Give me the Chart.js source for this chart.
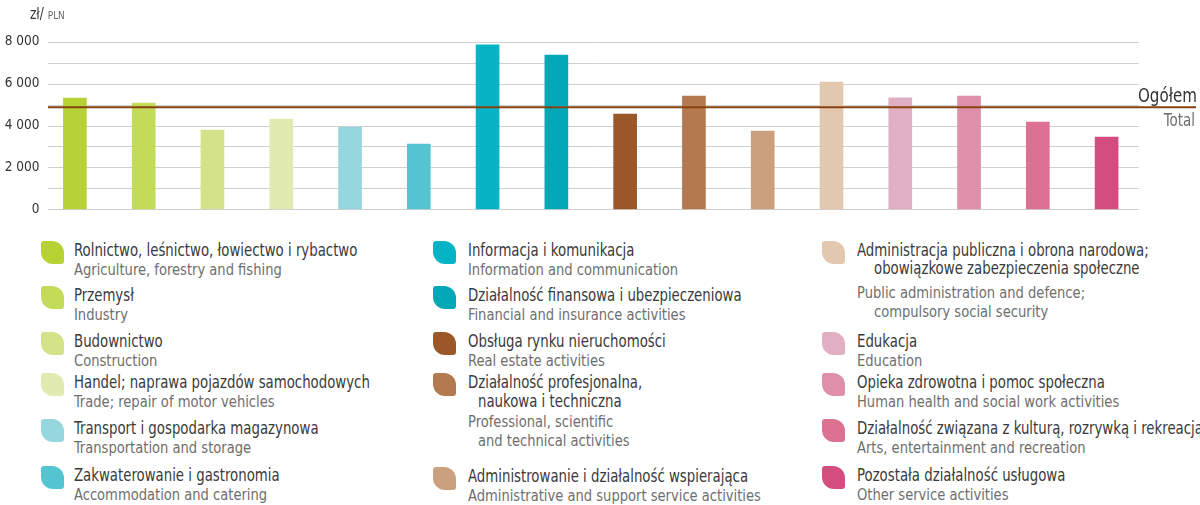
<!DOCTYPE html>
<html>
<head>
<meta charset="utf-8">
<script src="https://cdn.jsdelivr.net/npm/chart.js@4.4.1/dist/chart.umd.min.js"></script>
<style>
  html, body { margin: 0; padding: 0; background: #fff; }
  #wrap { position: relative; width: 1200px; height: 505px; overflow: hidden;
    font-family: "Liberation Sans Narrow", "DejaVu Sans Condensed", "Roboto", sans-serif; }
  #chart { position: absolute; left: 0; top: 0; }
  #unit { position: absolute; left: 30px; top: 5px; font-size: 15px; color: #333;
    transform: scaleX(0.9); transform-origin: 0 0; white-space: nowrap; }
  #unit span { font-size: 11px; color: #666; }
  .item { position: absolute; }
  .icon { position: absolute; width: 23px; height: 23px; border-radius: 3px 12px 3px 12px; }
  .pl { font-size: 17px; line-height: 19px; color: #3a3a3a; white-space: nowrap;
    transform: scaleX(0.87); transform-origin: 0 0; }
  .en { font-size: 16px; line-height: 19px; color: #6e6e6e; white-space: nowrap;
    transform: scaleX(0.91); transform-origin: 0 0; }
</style>
</head>
<body>
<div id="wrap">
  <canvas id="chart" width="1200" height="225"></canvas>
  <div id="unit">zł/ <span>PLN</span></div>
  <div id="legend"></div>
</div>
<script>
// Polish and English names of the sections
const categoriesPl = [
  ['Rolnictwo, leśnictwo, łowiectwo i rybactwo'],
  ['Przemysł'],
  ['Budownictwo'],
  ['Handel; naprawa pojazdów samochodowych'],
  ['Transport i gospodarka magazynowa'],
  ['Zakwaterowanie i gastronomia'],
  ['Informacja i komunikacja'],
  ['Działalność finansowa i  ubezpieczeniowa'],
  ['Obsługa rynku nieruchomości'],
  ['Działalność profesjonalna,', 'naukowa i  techniczna'],
  ['Administrowanie i działalność wspierająca'],
  ['Administracja publiczna i obrona narodowa;', 'obowiązkowe zabezpieczenia społeczne'],
  ['Edukacja'],
  ['Opieka zdrowotna i pomoc społeczna'],
  ['Działalność związana z kulturą, rozrywką i rekreacją'],
  ['Pozostała działalność usługowa']
];
const categoriesEn = [
  ['Agriculture, forestry and fishing'],
  ['Industry'],
  ['Construction'],
  ['Trade; repair of motor vehicles'],
  ['Transportation and storage'],
  ['Accommodation and catering'],
  ['Information and communication'],
  ['Financial and insurance activities'],
  ['Real estate activities'],
  ['Professional, scientific', 'and technical activities'],
  ['Administrative and support service activities'],
  ['Public administration and defence;', 'compulsory social security'],
  ['Education'],
  ['Human health and social work activities'],
  ['Arts, entertainment and recreation'],
  ['Other service activities']
];
// average gross wage, PLN
const wages = [5310, 5070, 3785, 4310, 3930, 3115, 7845, 7365, 4550, 5410, 3735, 6075, 5315, 5410, 4165, 3450];
const totalWage = 4870;
const totalLabelPl = 'Ogółem';
const totalLabelEn = 'Total';
const yTicks = [0, 2000, 4000, 6000, 8000];

const palette = ['#b5d334', '#c2dc5a', '#d4e38a', '#e1eab0', '#96d7df', '#55c4d1', '#07b4c5', '#02a7b8',
  '#9a5727', '#b4794f', '#cba07e', '#e3c8b0', '#e0afc2', '#df8fa9', '#dc7192', '#d44d7f'];

const fontFam = '"Liberation Sans Narrow", "DejaVu Sans Condensed", Roboto, sans-serif';

// narrowed text on the canvas, right aligned at x
function narrowText(ctx, text, x, y, sx) {
  ctx.save();
  ctx.translate(x, y);
  ctx.scale(sx, 1);
  ctx.fillText(text, 0, 0);
  ctx.restore();
}

// grid every 1000 and the "Ogółem" reference line
const refPlugin = {
  id: 'refs',
  beforeDatasetsDraw(chart) {
    const y = chart.scales.y, ctx = chart.ctx;
    ctx.save();
    ctx.strokeStyle = '#cfcfcf';
    ctx.lineWidth = 1;
    for (let v = 0; v <= 8000; v += 1000) {
      const py = Math.round(y.getPixelForValue(v)) + 0.5;
      ctx.beginPath();
      ctx.moveTo(48, py);
      ctx.lineTo(1139, py);
      ctx.stroke();
    }
    ctx.restore();
  },
  afterDatasetsDraw(chart) {
    const y = chart.scales.y, ctx = chart.ctx;
    const py = y.getPixelForValue(totalWage);
    ctx.save();
    ctx.strokeStyle = '#86420f';
    ctx.lineWidth = 2;
    ctx.beginPath();
    ctx.moveTo(48, py);
    ctx.lineTo(1196, py);
    ctx.stroke();
    ctx.textAlign = 'right';
    ctx.textBaseline = 'alphabetic';
    ctx.fillStyle = '#333';
    ctx.font = '20px ' + fontFam;
    narrowText(ctx, totalLabelPl, 1197, py - 5.5, 0.84);
    ctx.fillStyle = '#6e6e6e';
    ctx.font = '17px ' + fontFam;
    narrowText(ctx, totalLabelEn, 1195, py + 18.5, 0.88);
    ctx.restore();
  }
};

new Chart(document.getElementById('chart'), {
  type: 'bar',
  data: {
    labels: categoriesPl.map(l => l.join(' ')),
    datasets: [{
      data: wages,
      backgroundColor: palette,
      borderWidth: 0,
      barThickness: 23
    }]
  },
  options: {
    responsive: false,
    animation: false,
    layout: { padding: { top: 41.7, bottom: 15.7, left: 0, right: 59 } },
    plugins: { legend: { display: false }, tooltip: { enabled: false } },
    scales: {
      x: { display: false },
      y: {
        min: 0, max: 8000,
        afterFit(scale) { scale.width = 40.5; },
        afterBuildTicks(scale) { scale.ticks = yTicks.map(v => ({ value: v })); },
        border: { display: false },
        grid: { display: false, drawTicks: false },
        ticks: {
          padding: 1,
          color: '#333',
          font: { family: fontFam, size: 13.5 },
          callback: v => String(v).replace(/\B(?=(\d{3})+(?!\d))/g, ' ')
        }
      }
    }
  },
  plugins: [refPlugin]
});

// legend: three columns, first-line baseline of each entry
const legendCols = [
  { icon: 41, text: 74, indent: 10, items: [0, 1, 2, 3, 4, 5], base: [255.7, 300.7, 346.7, 388.3, 434.3, 480.7] },
  { icon: 432.5, text: 467.5, indent: 10, items: [6, 7, 8, 9, 10], base: [255.7, 301, 347.3, 388.3, 481.7] },
  { icon: 821.5, text: 856.5, indent: 17, items: [11, 12, 13, 14, 15], base: [255.7, 346.7, 388.3, 434.3, 480.7] }
];
const legend = document.getElementById('legend');
legendCols.forEach(col => {
  col.items.forEach((idx, r) => {
    const top = col.base[r] - 15.2;
    const icon = document.createElement('div');
    icon.className = 'icon';
    icon.style.left = col.icon + 'px';
    icon.style.top = (top + 0.2) + 'px';
    icon.style.background = palette[idx];
    legend.appendChild(icon);
    const item = document.createElement('div');
    item.className = 'item';
    item.style.left = col.text + 'px';
    item.style.top = top + 'px';
    const pl = categoriesPl[idx], en = categoriesEn[idx];
    pl.forEach((t, i) => {
      const d = document.createElement('div');
      d.className = 'pl';
      d.textContent = t;
      if (i > 0) { d.style.paddingLeft = (col.indent / 0.87) + 'px'; d.style.lineHeight = (col.indent > 12 ? 16.6 : 19.4) + 'px'; }
      item.appendChild(d);
    });
    en.forEach((t, i) => {
      const d = document.createElement('div');
      d.className = 'en';
      d.textContent = t;
      if (i === 0 && pl.length > 1 && col.indent > 12) d.style.marginTop = '7px';
      if (i > 0) d.style.paddingLeft = (col.indent / 0.91) + 'px';
      item.appendChild(d);
    });
    legend.appendChild(item);
  });
});
</script>
</body>
</html>
